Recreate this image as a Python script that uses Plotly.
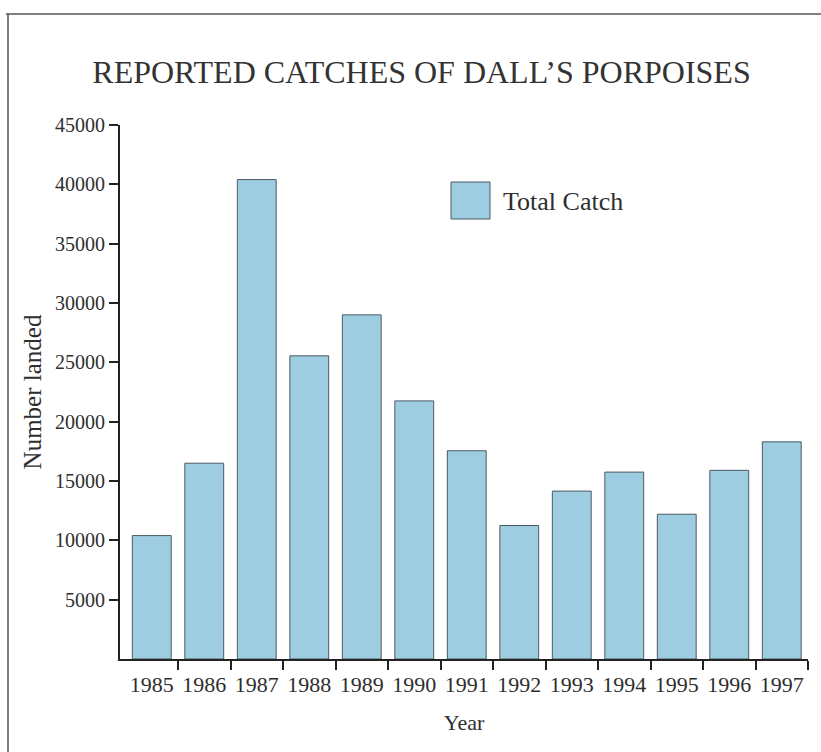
import plotly.graph_objects as go

years = [1985, 1986, 1987, 1988, 1989, 1990, 1991, 1992, 1993, 1994, 1995, 1996, 1997]
total_catch = [10400, 16500, 40400, 25550, 29000, 21750, 17550, 11250, 14150, 15750, 12200, 15900, 18300]
y_ticks = [5000, 10000, 15000, 20000, 25000, 30000, 35000, 40000, 45000]

title_text = "REPORTED CATCHES OF DALL\u2019S PORPOISES"
legend_text = "Total Catch"
x_title = "Year"
y_title = "Number landed"

FONT = "Liberation Serif"
BAR_FILL = "#9ecde2"
BAR_LINE = "#4a5a62"
TEXT = "#2e2e2e"

fig = go.Figure()
fig.add_trace(go.Bar(
    x=years, y=total_catch, name=legend_text,
    width=0.74,
    marker=dict(color=BAR_FILL, line=dict(color=BAR_LINE, width=1)),
    showlegend=False,
))

W, H = 821, 752
L, R, T, B = 120, 13, 125, 93
pw, ph = W - L - R, H - T - B

def px_x(p):
    return (p - L) / pw

def px_y(p):
    return (H - B - p) / ph

# frame lines from the scanned page
fig.add_shape(type="line", xref="paper", yref="paper",
              x0=px_x(6), x1=px_x(821), y0=px_y(14), y1=px_y(14),
              line=dict(color="#555555", width=1.5))
fig.add_shape(type="line", xref="paper", yref="paper",
              x0=px_x(8), x1=px_x(8), y0=px_y(14), y1=px_y(752),
              line=dict(color="#555555", width=1.5))

# legend swatch + label
fig.add_shape(type="rect", xref="paper", yref="paper",
              x0=px_x(451), x1=px_x(490), y0=px_y(219), y1=px_y(182),
              fillcolor=BAR_FILL, line=dict(color=BAR_LINE, width=1))
fig.add_annotation(xref="paper", yref="paper", x=px_x(501), y=px_y(201),
                   text=legend_text, showarrow=False, xanchor="left", yanchor="middle",
                   font=dict(family=FONT, size=26, color=TEXT))

fig.update_layout(
    width=W, height=H,
    margin=dict(l=L, r=R, t=T, b=B),
    paper_bgcolor="white", plot_bgcolor="white",
    font=dict(family=FONT, color=TEXT),
    title=dict(text=title_text, x=421.5 / W, xref="container", xanchor="center",
               y=1 - 72 / H, yref="container", yanchor="middle",
               font=dict(family=FONT, size=32, color="#333333")),
    xaxis=dict(
        range=[1984.395, 1997.5],
        tickmode="array", tickvals=years, ticktext=[str(y) for y in years],
        ticks="", showgrid=False, zeroline=False,
        showline=True, linecolor="#222222", linewidth=2,
        tickfont=dict(family=FONT, size=22, color=TEXT),
        ticklabelstandoff=5,
        minor=dict(tickmode="array", tickvals=[y + 0.5 for y in years],
                   ticks="outside", ticklen=9, tickwidth=1.5, tickcolor="#222222",
                   showgrid=False),
        title=dict(text=x_title, font=dict(family=FONT, size=22, color=TEXT), standoff=18),
    ),
    yaxis=dict(
        range=[0, 45000],
        tickmode="array", tickvals=y_ticks, ticktext=[str(v) for v in y_ticks],
        ticks="outside", ticklen=9, tickwidth=1.5, tickcolor="#222222",
        showgrid=False, zeroline=False,
        showline=True, linecolor="#222222", linewidth=2,
        tickfont=dict(family=FONT, size=20, color=TEXT),
        title=dict(text=y_title, font=dict(family=FONT, size=25, color=TEXT), standoff=6),
    ),
)

fig.write_html("out.html", config={"displayModeBar": False},
               post_script="document.body.style.margin='0';")
